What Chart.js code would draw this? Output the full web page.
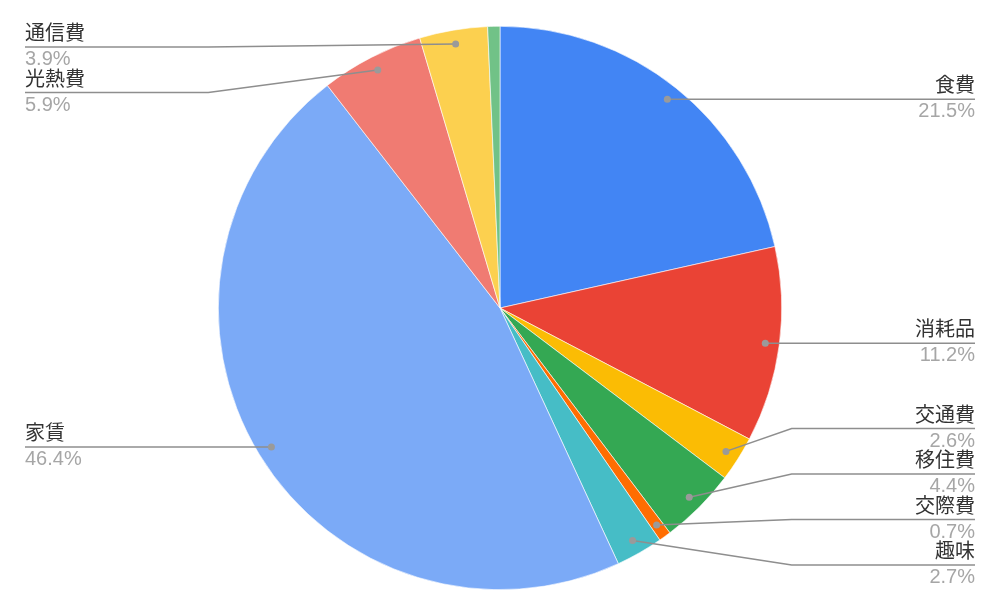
<!DOCTYPE html>
<html>
<head>
<meta charset="utf-8">
<script src="https://cdn.jsdelivr.net/npm/chart.js@4"></script>
<style>
  html, body { margin: 0; padding: 0; background: #fff; }
  #wrap { width: 1000px; height: 597px; }
</style>
</head>
<body>
<div id="wrap"><canvas id="pieChart" width="1000" height="597"></canvas></div>
<script>
// categories and values (percent), clockwise from 12 o'clock
const categories = ["食費", "消耗品", "交通費", "移住費", "交際費", "趣味", "家賃", "光熱費", "通信費", ""];
const values = [21.5, 11.2, 2.6, 4.4, 0.7, 2.7, 46.4, 5.9, 3.9, 0.7];
const colors = ["#4285F4", "#EA4335", "#FBBC04", "#34A853", "#FF6D01", "#46BDC6", "#7BAAF7", "#F07B72", "#FCD04F", "#71C287"];

const FONT = '20px "Liberation Sans", "Noto Sans CJK JP", sans-serif';

// callout labels: dot inside slice, elbow line, name above / percent below
const calloutPlugin = {
    id: "callouts",
    afterDraw(chart) {
        const ctx = chart.ctx;
        const meta = chart.getDatasetMeta(0);
        const total = values.reduce((a, b) => a + b, 0);
        const left = [], right = [];

        meta.data.forEach((arc, i) => {
            if (!categories[i]) return;
            const mid = (arc.startAngle + arc.endAngle) / 2;
            const r = arc.outerRadius * 0.95;
            const item = {
                i: i,
                cx: arc.x, R: arc.outerRadius,
                dx: arc.x + Math.cos(mid) * r,
                dy: arc.y + Math.sin(mid) * r
            };
            item.y = item.dy;
            (item.dx < arc.x ? left : right).push(item);
        });

        const gap = 45.5, minY = 47, maxY = 565;
        [left, right].forEach(side => {
            side.sort((a, b) => a.dy - b.dy);
            for (let k = 0; k < side.length; k++) {
                const lo = k === 0 ? minY : side[k - 1].y + gap;
                side[k].y = Math.max(side[k].y, lo);
            }
            for (let k = side.length - 1; k >= 0; k--) {
                const hi = k === side.length - 1 ? maxY : side[k + 1].y - gap;
                side[k].y = Math.min(side[k].y, hi);
            }
        });

        ctx.save();
        ctx.font = FONT;
        const draw = (item, isLeft) => {
            const elbowX = isLeft ? item.cx - item.R - 10 : item.cx + item.R + 10;
            const endX = isLeft ? 25 : 975;

            ctx.strokeStyle = "#8e8e8e";
            ctx.lineWidth = 1.5;
            ctx.beginPath();
            ctx.moveTo(item.dx, item.dy);
            ctx.lineTo(elbowX, item.y);
            ctx.lineTo(endX, item.y);
            ctx.stroke();

            ctx.fillStyle = "#9a9a9a";
            ctx.beginPath();
            ctx.arc(item.dx, item.dy, 3.5, 0, Math.PI * 2);
            ctx.fill();

            ctx.textAlign = isLeft ? "left" : "right";
            ctx.textBaseline = "alphabetic";
            ctx.fillStyle = "#333333";
            ctx.fillText(categories[item.i], endX, item.y - 7);
            ctx.fillStyle = "#a6a6a6";
            ctx.fillText((values[item.i] / total * 100).toFixed(1) + "%", endX, item.y + 18);
        };
        left.forEach(it => draw(it, true));
        right.forEach(it => draw(it, false));
        ctx.restore();
    }
};

document.addEventListener("DOMContentLoaded", () => {

    const canvas = document.getElementById("pieChart");

    new Chart(canvas, {
        type: "pie",
        data: {
            labels: categories,
            datasets: [{
                data: values,
                backgroundColor: colors,
                borderColor: "#ffffff",
                borderWidth: 0.6
            }]
        },
        options: {
            responsive: false,
            animation: false,
            layout: {
                padding: { top: 26, bottom: 7, left: 0, right: 0 }
            },
            plugins: {
                legend: { display: false },
                tooltip: { enabled: false }
            }
        },
        plugins: [calloutPlugin]
    });

});
</script>
</body>
</html>
